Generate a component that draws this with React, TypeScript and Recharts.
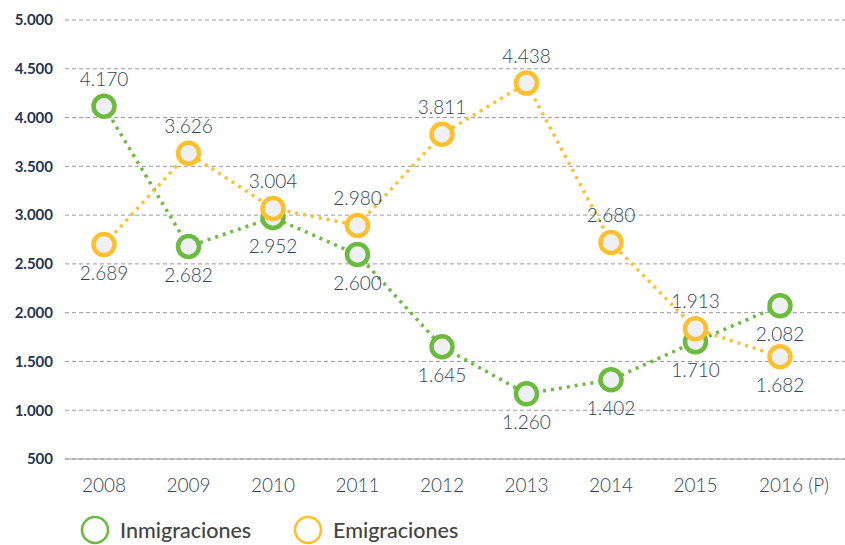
import React from 'react';
import { LineChart, Line, XAxis, YAxis, CartesianGrid, LabelList, Legend } from 'recharts';

const years = ['2008', '2009', '2010', '2011', '2012', '2013', '2014', '2015', '2016 (P)'];
// plotted positions
const inmigraciones = [4116, 2678, 2976, 2596, 1651, 1168, 1312, 1702, 2072];
const emigraciones = [2698, 3634, 3068, 2894, 3829, 4353, 2719, 1836, 1548];
// printed value labels
const inmigracionesLabels = [4170, 2682, 2952, 2600, 1645, 1260, 1402, 1710, 2082];
const emigracionesLabels = [2689, 3626, 3004, 2980, 3811, 4438, 2680, 1913, 1682];
const yTicks = [500, 1000, 1500, 2000, 2500, 3000, 3500, 4000, 4500, 5000];

// label placement (true = below point)
const inmBelow = [false, true, true, true, true, true, true, true, true];
const emiBelow = [true, false, false, false, false, false, false, false, true];

const GREEN = '#6cbb3f';
const YELLOW = '#fcc030';
const FONT = 'Lato, "Open Sans", sans-serif';

const data = years.map((y, i) => ({
  year: y,
  inm: inmigraciones[i],
  emi: emigraciones[i],
  inmLabel: inmigracionesLabels[i],
  emiLabel: emigracionesLabels[i],
}));

const fmt = (v: number) => v.toLocaleString('de-DE');

const makeLabel = (below: boolean[], labels: number[]) => (props: any) => {
  const { x, y, index } = props;
  const b = below[index];
  return (
    <text
      x={x}
      y={y + (b ? 29 : -27)}
      dy="0.35em"
      textAnchor="middle"
      fontFamily={FONT}
      fontWeight={300}
      fontSize={19}
      fill="#2f4458"
    >
      {fmt(labels[index])}
    </text>
  );
};

const XTick = (props: any) => {
  const { x, y, payload } = props;
  const extra = payload.value.length > 4 ? 14 : 0;
  return (
    <text
      x={x + extra}
      y={y}
      dy="0.71em"
      textAnchor="middle"
      fontFamily={FONT}
      fontWeight={300}
      fontSize={19}
      fill="#2f4458"
    >
      {payload.value}
    </text>
  );
};

const LegendContent = () => (
  <div style={{ height: 30, position: 'relative', fontFamily: FONT }}>
    {[
      { name: 'Inmigraciones', color: GREEN, cx: 95, tx: 120 },
      { name: 'Emigraciones', color: YELLOW, cx: 308, tx: 333 },
    ].map((it) => (
      <React.Fragment key={it.name}>
        <svg
          width={30}
          height={30}
          style={{ position: 'absolute', left: it.cx - 15, top: 0 }}
        >
          <circle cx={15} cy={15} r={13} fill="none" stroke={it.color} strokeWidth={2.6} />
        </svg>
        <span
          style={{
            position: 'absolute',
            left: it.tx,
            top: 1,
            fontSize: 21.5,
            fontWeight: 500,
            color: '#444',
            lineHeight: '28px',
            whiteSpace: 'nowrap',
          }}
        >
          {it.name}
        </span>
      </React.Fragment>
    ))}
  </div>
);

export default function App() {
  return (
    <div style={{ position: 'absolute', left: 0, top: 0 }}>
      <LineChart
        width={845}
        height={545}
        data={data}
        margin={{ top: 20, right: 0, bottom: 0, left: 0 }}
      >
        <CartesianGrid horizontal vertical={false} stroke="#9a9a9a" strokeDasharray="4 3" />
        <XAxis
          dataKey="year"
          height={56}
          padding={{ left: 39, right: 65 }}
          axisLine={{ stroke: '#999', strokeWidth: 1 }}
          tickLine={false}
          tickSize={6}
          tickMargin={14}
          tick={<XTick />}
          interval={0}
        />
        <YAxis
          width={65}
          domain={[500, 5000]}
          ticks={yTicks}
          axisLine={false}
          tickLine={false}
          tickMargin={6}
          tickFormatter={fmt}
          tick={{ fontFamily: FONT, fontWeight: 700, fontSize: 15, fill: '#1f3550' }}
          allowDataOverflow
        />
        <Legend verticalAlign="bottom" content={<LegendContent />} />
        <Line
          dataKey="inm"
          name="Inmigraciones"
          stroke={GREEN}
          strokeWidth={3.5}
          strokeDasharray="3 5"
          isAnimationActive={false}
          dot={{ r: 10.5, strokeWidth: 4.5, fill: '#eef0f3', stroke: GREEN, strokeDasharray: '' }}
          activeDot={false}
        >
          <LabelList dataKey="inmLabel" content={makeLabel(inmBelow, inmigracionesLabels)} />
        </Line>
        <Line
          dataKey="emi"
          name="Emigraciones"
          stroke={YELLOW}
          strokeWidth={3.5}
          strokeDasharray="3 5"
          isAnimationActive={false}
          dot={{ r: 10.5, strokeWidth: 4.5, fill: '#eef0f3', stroke: YELLOW, strokeDasharray: '' }}
          activeDot={false}
        >
          <LabelList dataKey="emiLabel" content={makeLabel(emiBelow, emigracionesLabels)} />
        </Line>
      </LineChart>
    </div>
  );
}
